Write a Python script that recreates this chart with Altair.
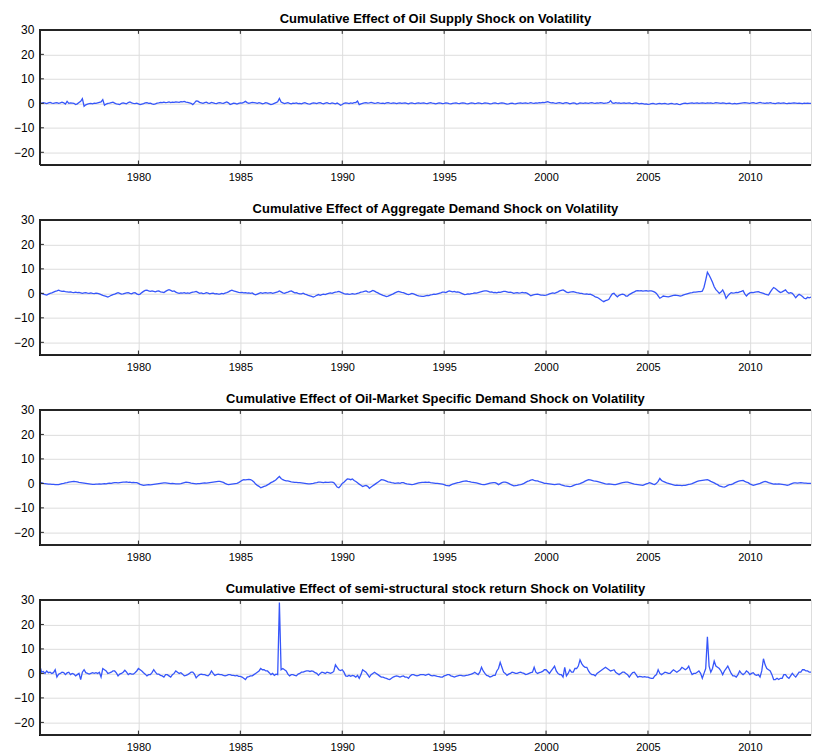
import altair as alt
import pandas as pd

# ---------------- data (monthly, first row = 1975 starting in March) ----------------
FIRST_YEAR = 1975
FIRST_MONTH = 3

SUPPLY = [
    [0.2, 0.0, 0.3, 0.1, -0.1, 0.2, 0.4, 0.1, 0.0, 0.2],
    [0.3, 0.0, 0.2, 0.5, 0.2, -0.3, 0.8, 0.0, 0.2, 0.1, 0.0, -0.5],
    [-0.2, 0.3, 0.8, 1.9, -1.2, -0.6, -0.3, -0.1, 0.0, -0.2, 0.1, 0.0],
    [0.2, 0.4, 0.6, 1.5, -0.8, -0.3, 0.0, 0.1, 0.3, 0.5, 0.1, -0.2],
    [-0.3, -0.5, 0.0, 0.2, 0.0, -0.2, 0.3, 0.6, 0.2, 0.0, -0.1, 0.1],
    [-0.2, -0.5, -0.3, -0.1, 0.2, 0.3, 0.0, 0.1, -0.2, -0.4, -0.2, 0.1],
    [0.2, 0.4, 0.3, 0.5, 0.3, 0.4, 0.6, 0.3, 0.5, 0.4, 0.6, 0.5],
    [0.4, 0.7, 0.6, 0.8, 0.5, 0.4, 0.2, 0.0, -0.5, 0.2, 1.0, 0.9],
    [0.4, 0.2, 0.0, 0.3, 0.5, 0.1, 0.0, 0.4, 0.2, 0.0, -0.1, 0.2],
    [0.3, 0.1, 0.0, 0.3, 0.6, 0.2, -0.5, -0.2, 0.1, 0.0, -0.3, 0.0],
    [0.2, 0.1, 0.4, 0.8, 0.3, 0.0, 0.2, 0.4, 0.3, 0.2, 0.0, 0.3],
    [0.1, -0.2, 0.0, 0.3, 0.1, -0.2, -0.5, -0.3, 0.0, 0.3, 0.6, 2.0],
    [0.5, 0.2, -0.1, 0.1, 0.3, 0.0, -0.2, 0.1, 0.0, 0.2, -0.1, 0.0],
    [-0.2, 0.1, 0.3, 0.0, -0.2, -0.3, 0.0, 0.2, 0.1, -0.1, 0.2, 0.3],
    [0.0, -0.2, 0.1, 0.3, 0.0, -0.1, 0.2, 0.0, -0.2, 0.1, -0.3, -0.8],
    [-0.5, 0.0, 0.2, 0.1, -0.1, 0.2, 0.0, 0.3, 0.3, 0.9, -0.5, -0.2],
    [0.0, 0.2, 0.3, 0.1, 0.2, 0.4, 0.2, 0.0, 0.1, 0.3, 0.1, 0.0],
    [0.1, -0.1, 0.2, 0.3, 0.1, 0.0, 0.2, 0.1, -0.1, 0.1, 0.2, 0.0],
    [0.1, 0.2, 0.0, -0.2, 0.1, 0.2, 0.0, -0.1, 0.1, 0.2, 0.0, 0.1],
    [0.2, 0.0, -0.1, 0.1, 0.3, 0.1, 0.0, -0.2, 0.0, 0.2, 0.1, -0.1],
    [0.0, 0.2, 0.1, -0.1, -0.2, 0.0, 0.1, 0.2, 0.0, -0.1, 0.1, 0.2],
    [0.1, -0.1, -0.2, 0.0, 0.2, 0.1, -0.1, 0.0, 0.2, 0.1, -0.1, 0.0],
    [0.2, 0.1, 0.0, -0.2, -0.1, 0.1, 0.2, 0.0, -0.1, 0.1, 0.2, 0.1],
    [-0.1, -0.3, -0.2, 0.0, 0.1, -0.1, -0.2, 0.0, 0.1, 0.2, 0.0, 0.1],
    [0.2, 0.0, 0.1, 0.3, 0.1, 0.0, 0.2, 0.1, 0.3, 0.2, 0.4, 0.3],
    [0.5, 0.7, 0.4, 0.2, 0.3, 0.1, 0.0, 0.2, 0.3, 0.1, -0.1, 0.2],
    [0.3, 0.1, -0.2, 0.0, 0.2, 0.1, -0.3, -0.1, 0.2, 0.1, 0.0, 0.2],
    [0.1, 0.0, 0.2, 0.3, 0.1, 0.0, 0.2, 0.1, 0.3, 0.2, 0.0, 0.1],
    [0.2, 0.4, 1.1, 0.2, 0.0, 0.3, 0.1, 0.2, 0.0, 0.1, 0.2, 0.0],
    [0.1, 0.2, 0.0, -0.1, 0.1, 0.2, 0.0, -0.2, 0.0, -0.1, -0.3, -0.2],
    [-0.4, -0.3, -0.1, 0.0, -0.2, -0.3, -0.1, 0.0, -0.2, -0.1, 0.0, -0.2],
    [-0.3, -0.1, 0.0, -0.2, -0.3, -0.1, -0.4, -0.5, -0.2, 0.0, 0.1, -0.1],
    [0.0, 0.1, 0.2, 0.0, 0.1, 0.2, 0.0, 0.1, 0.2, 0.1, 0.0, 0.2],
    [0.1, 0.2, 0.0, 0.1, 0.3, 0.2, 0.1, 0.0, 0.2, 0.1, -0.1, 0.0],
    [0.1, -0.1, -0.2, 0.0, -0.2, -0.1, 0.0, 0.1, 0.2, 0.3, 0.2, 0.1],
    [0.0, 0.2, 0.3, 0.1, 0.0, 0.2, 0.4, 0.2, 0.1, 0.0, 0.2, 0.1],
    [0.3, 0.1, 0.0, -0.1, 0.1, 0.2, 0.0, 0.1, 0.2, 0.0, -0.1, 0.1],
    [0.0, 0.1, 0.2, 0.1, 0.0, 0.1, 0.0, -0.1, 0.1, 0.0, 0.1, 0.0],
    [0.0],
]

AGGREGATE = [
    [0.0, 0.0, -0.3, -0.5, -0.7, -0.3, 0.0, 0.2, 0.5, 0.8],
    [1.0, 1.3, 1.0, 0.8, 0.9, 0.7, 0.6, 0.5, 0.6, 0.4, 0.3, 0.5],
    [0.3, 0.4, 0.2, 0.0, 0.2, 0.3, 0.1, 0.0, 0.2, 0.0, -0.1, 0.1],
    [0.0, -0.2, -0.5, -0.8, -1.0, -1.2, -1.5, -1.2, -0.8, -0.5, -0.3, 0.0],
    [0.3, 0.0, -0.3, -0.2, 0.0, 0.2, 0.3, 0.0, -0.2, 0.2, 0.3, -0.2],
    [-0.5, -0.3, 0.3, 0.8, 1.2, 1.3, 1.0, 0.8, 1.0, 0.8, 0.6, 0.9],
    [1.0, 0.6, 0.5, 0.3, 0.8, 1.2, 1.5, 1.2, 0.8, 1.0, 0.5, 0.2],
    [0.0, 0.2, 0.1, 0.3, 0.0, 0.2, 0.0, 0.3, 0.5, 0.6, 0.8, 0.4],
    [0.0, 0.2, -0.1, 0.0, 0.3, 0.1, -0.2, 0.0, 0.1, -0.2, -0.1, -0.3],
    [-0.3, 0.0, -0.2, 0.1, 0.3, 0.6, 1.0, 1.3, 1.0, 0.8, 0.6, 0.4],
    [0.3, 0.4, 0.2, 0.3, 0.1, 0.2, 0.0, 0.2, -0.3, -0.6, -0.3, 0.0],
    [0.3, 0.0, 0.2, 0.3, 0.1, 0.2, 0.3, 0.0, 0.2, 0.4, 0.6, 1.0],
    [0.6, 0.2, 0.0, 0.3, 0.5, 0.8, 1.0, 0.6, 0.2, 0.3, 0.0, -0.2],
    [-0.2, 0.1, -0.3, -0.5, -0.8, -1.0, -1.2, -1.5, -1.2, -0.8, -0.5, -0.8],
    [-0.5, -0.3, -0.5, -0.2, 0.0, 0.2, 0.0, 0.3, 0.5, 0.6, 0.8, 0.5],
    [0.2, -0.1, -0.3, -0.2, -0.4, -0.3, -0.1, -0.3, -0.2, 0.0, 0.2, 0.5],
    [0.6, 0.8, 1.0, 0.6, 0.5, 0.8, 1.2, 0.9, 0.5, 0.2, -0.2, -0.5],
    [-0.8, -1.0, -1.3, -1.1, -0.8, -0.5, -0.2, 0.2, 0.5, 0.8, 0.6, 0.4],
    [0.3, 0.0, -0.3, -0.5, -0.3, 0.0, -0.2, -0.5, -0.8, -1.0, -1.1, -1.2],
    [-1.2, -1.0, -0.8, -0.9, -0.6, -0.5, -0.3, -0.4, -0.2, 0.0, 0.2, 0.5],
    [0.5, 0.3, 0.7, 1.0, 0.8, 0.6, 0.8, 0.5, 0.6, 0.4, 0.1, -0.2],
    [-0.5, -0.4, -0.2, -0.3, -0.1, 0.0, 0.2, 0.1, 0.3, 0.5, 0.7, 0.9],
    [1.0, 1.0, 0.8, 0.5, 0.6, 0.3, 0.4, 0.2, 0.5, 0.4, 0.6, 0.8],
    [0.8, 0.6, 0.4, 0.5, 0.3, 0.0, 0.2, 0.3, 0.1, 0.2, 0.4, 0.2],
    [0.3, 0.0, -0.5, -1.0, -0.7, -0.5, -0.4, -0.3, -0.5, -0.7, -0.7, -0.8],
    [-0.7, -0.5, -0.2, 0.0, 0.2, 0.0, 0.3, 0.6, 1.0, 1.2, 1.4, 1.0],
    [0.5, 0.3, 0.5, 0.6, 0.7, 0.5, 0.3, 0.2, 0.0, 0.0, -0.2, -0.3],
    [-0.2, -0.4, -0.3, -0.6, -1.0, -1.4, -1.6, -2.0, -2.5, -3.0, -3.4, -3.0],
    [-2.8, -2.4, -1.2, -0.2, 0.0, -0.8, -1.4, -0.8, -0.5, -0.3, -0.5, -1.1],
    [-1.1, -0.5, -0.1, 0.3, 0.6, 1.0, 1.1, 1.0, 1.1, 0.9, 1.0, 1.1],
    [0.9, 1.0, 1.0, 0.8, 0.5, 0.0, -1.0, -2.0, -1.6, -1.1, -1.2, -1.3],
    [-1.4, -1.2, -1.0, -0.8, -0.7, -0.8, -0.9, -1.1, -0.9, -0.6, -0.4, -0.2],
    [0.0, 0.2, 0.3, 0.5, 0.5, 0.6, 0.7, 0.7, 0.9, 2.5, 5.4, 8.6],
    [7.5, 6.1, 4.5, 2.7, 1.5, 0.8, 0.0, 0.5, 1.4, 0.0, -2.0, -1.0],
    [-0.3, 0.3, 0.1, 0.2, 0.4, 0.3, 0.6, 0.8, 1.1, -0.2, -1.1, -0.3],
    [0.2, 0.4, 0.3, 0.5, 0.6, 0.7, 0.4, 0.2, 0.0, -0.3, -0.5, -0.7],
    [0.5, 1.5, 2.4, 2.0, 1.4, 0.8, 0.3, 0.6, 1.0, 1.4, 0.5, 0.0],
    [0.3, 0.0, -0.8, -1.8, -1.0, -0.4, -0.8, -1.3, -2.0, -2.2, -1.6, -1.8],
    [-1.5],
]

OIL_MARKET = [
    [0.3, 0.2, 0.0, -0.1, -0.2, -0.3, -0.3, -0.4, -0.4, -0.5],
    [-0.5, -0.5, -0.3, -0.1, 0.0, 0.2, 0.3, 0.5, 0.6, 0.7, 0.8, 0.7],
    [0.6, 0.4, 0.3, 0.2, 0.1, 0.0, -0.1, -0.2, -0.3, -0.4, -0.4, -0.3],
    [-0.3, -0.2, -0.3, -0.2, -0.1, -0.2, 0.0, 0.1, 0.0, 0.2, 0.3, 0.3],
    [0.2, 0.3, 0.4, 0.5, 0.5, 0.6, 0.4, 0.5, 0.3, 0.4, 0.3, 0.3],
    [0.0, -0.4, -0.6, -0.8, -0.7, -0.6, -0.5, -0.6, -0.5, -0.4, -0.3, -0.2],
    [-0.1, 0.0, 0.1, 0.2, 0.2, 0.1, 0.0, -0.1, 0.0, -0.1, -0.2, -0.2],
    [-0.2, -0.1, 0.1, 0.3, 0.5, 0.4, 0.3, 0.1, 0.0, -0.1, -0.2, -0.1],
    [-0.1, 0.0, 0.1, 0.2, 0.1, 0.2, 0.3, 0.4, 0.5, 0.6, 0.7, 0.8],
    [0.8, 0.6, 0.4, 0.0, -0.3, -0.5, -0.4, -0.3, -0.2, -0.1, 0.0, 0.3],
    [0.8, 1.2, 1.5, 1.4, 1.5, 1.6, 1.5, 1.2, 0.6, -0.3, -0.8, -1.2],
    [-1.8, -1.5, -1.2, -1.0, -0.6, -0.2, 0.3, 0.6, 1.0, 1.5, 2.2, 2.8],
    [2.0, 1.5, 1.2, 1.0, 1.0, 0.8, 0.6, 0.5, 0.4, 0.4, 0.3, 0.3],
    [0.2, 0.1, 0.0, -0.1, -0.2, -0.2, -0.1, 0.0, 0.2, 0.3, 0.5, 0.5],
    [0.4, 0.3, 0.5, 0.4, 0.4, 0.5, 0.5, 0.3, -0.5, -1.5, -1.8, -1.0],
    [0.0, 0.5, 1.2, 1.8, 1.7, 1.5, 1.8, 1.2, 0.8, 0.3, -0.3, -0.8],
    [-1.3, -1.0, -0.8, -1.2, -2.0, -1.5, -1.0, -0.5, 0.0, 0.5, 1.0, 1.5],
    [1.4, 1.2, 0.9, 0.6, 0.5, 0.3, 0.2, 0.0, 0.1, 0.2, 0.0, 0.3],
    [0.3, 0.0, -0.2, -0.3, -0.4, -0.5, -0.4, -0.2, 0.0, 0.2, 0.3, 0.4],
    [0.4, 0.5, 0.4, 0.5, 0.3, 0.2, 0.1, 0.0, 0.0, -0.1, -0.2, -0.3],
    [-0.5, -0.8, -0.9, -1.0, -0.6, -0.3, -0.1, 0.1, 0.3, 0.4, 0.6, 0.8],
    [0.9, 1.0, 0.8, 0.7, 0.5, 0.4, 0.3, 0.2, 0.0, -0.2, -0.4, -0.5],
    [-0.5, -0.3, -0.1, 0.1, 0.2, 0.3, 0.3, 0.0, -0.5, -0.1, 0.3, 0.5],
    [0.5, 0.3, 0.0, -0.4, -0.7, -1.0, -0.9, -0.8, -0.6, -0.5, -0.3, 0.0],
    [0.4, 0.8, 1.0, 1.3, 1.5, 1.2, 1.0, 1.0, 0.7, 0.5, 0.3, 0.0],
    [0.0, -0.1, -0.2, -0.3, -0.4, -0.5, -0.4, -0.3, -0.3, -0.6, -0.8, -1.0],
    [-1.1, -1.2, -1.3, -1.2, -0.9, -0.6, -0.4, -0.3, -0.1, 0.2, 0.5, 0.9],
    [1.2, 1.5, 1.4, 1.2, 1.0, 0.9, 0.8, 0.6, 0.4, 0.2, 0.0, -0.2],
    [-0.3, -0.2, -0.3, -0.4, -0.5, -0.5, -0.3, -0.1, 0.1, 0.3, 0.4, 0.5],
    [0.5, 0.3, 0.1, -0.1, -0.3, -0.4, -0.5, -0.6, -0.7, -0.8, -0.5, -0.2],
    [0.0, 0.3, 0.0, -0.3, -0.5, 0.0, 0.8, 2.0, 1.2, 0.8, 0.5, 0.2],
    [0.0, -0.2, -0.4, -0.6, -0.8, -0.7, -0.8, -0.8, -0.9, -0.8, -0.8, -0.6],
    [-0.4, -0.3, -0.1, 0.2, 0.5, 0.8, 1.0, 1.1, 1.2, 1.3, 1.4, 1.5],
    [1.2, 0.8, 0.5, 0.2, -0.2, -0.5, -1.0, -1.2, -1.4, -1.5, -1.2, -0.8],
    [-0.5, -0.5, -0.2, 0.2, 0.5, 0.8, 1.0, 1.1, 1.2, 0.8, 0.5, 0.3],
    [-0.2, -0.5, -0.8, -0.6, -0.4, -0.2, 0.0, 0.3, 0.6, 0.8, 0.6, 0.3],
    [0.1, -0.1, -0.3, -0.2, -0.3, -0.2, -0.3, -0.4, -0.5, -0.6, -0.8, -0.6],
    [-0.3, 0.0, 0.2, 0.2, 0.1, 0.2, 0.3, 0.2, 0.1, 0.1, 0.0, 0.0],
    [0.0],
]

STOCK = [
    [3.0, 0.5, 0.8, 0.0, 1.0, 0.3, 0.5, 0.0, 0.3, 1.5],
    [-1.5, -0.3, 0.0, 0.5, 0.3, -0.5, 0.2, 0.5, -0.5, 0.0, -0.3, -1.0],
    [-0.5, 0.0, -2.5, 0.5, 1.5, 0.3, 0.0, -0.3, 0.0, 0.3, 0.0, 0.3],
    [0.0, 0.5, -1.5, 2.0, 1.5, 1.0, 0.0, 0.2, 0.5, 1.0, 1.0, 0.2],
    [-1.0, -0.3, 0.0, 0.5, 1.3, 0.5, -0.5, 0.0, -0.3, -0.3, 0.3, 1.0],
    [2.0, 1.5, 1.0, 0.3, -0.3, -1.0, -0.5, -0.5, 0.3, 1.5, 0.5, -0.3],
    [-0.3, -0.8, -1.0, -1.5, -0.5, -0.5, -1.0, -1.5, -0.5, 0.0, 1.0, 0.5],
    [0.0, 0.3, -0.3, -1.0, -0.8, -0.5, 0.0, 0.5, 0.5, -0.3, -1.8, -1.0],
    [-0.5, -0.3, -0.5, -0.5, -0.8, -1.0, -0.3, 1.0, 0.0, -0.8, -0.5, -0.3],
    [-0.5, -0.5, -0.8, -1.0, -0.8, -0.5, -0.5, -0.8, -0.8, -1.0, -0.8, -1.2],
    [-1.2, -1.5, -2.0, -2.5, -1.5, -1.3, -1.0, -1.0, -0.5, 0.0, 0.5, 1.0],
    [2.0, 1.5, 1.5, 1.0, 1.0, 0.3, -0.5, 0.0, -0.8, -0.3, -0.5, 29.0],
    [1.5, 2.0, 1.5, 1.0, -0.3, -1.0, -0.5, -0.5, -0.8, -1.0, -0.3, 0.0],
    [0.5, 0.5, 0.8, 1.0, 1.0, 0.8, 1.0, 0.8, 0.3, 0.0, -0.8, 0.0],
    [0.5, 0.3, 0.0, 0.5, 0.3, 0.0, 0.3, 0.8, 3.5, 2.5, 1.5, 1.2],
    [1.5, 0.5, -1.0, -1.2, -0.8, -1.2, -0.8, -1.0, -1.5, -0.8, -2.0, -0.5],
    [1.5, 1.0, 0.5, -0.5, -1.5, -0.5, 0.0, 0.5, 0.0, -0.5, -1.0, -1.5],
    [-1.5, -1.8, -2.0, -2.3, -2.5, -2.0, -1.5, -1.2, -1.0, -1.2, -1.5, -1.2],
    [-1.0, -1.5, -1.5, -2.0, -1.0, -0.5, -0.5, -0.8, -1.0, -0.8, -0.5, -0.5],
    [-0.5, -0.8, -0.5, -0.3, -0.8, -1.0, -0.8, -1.0, -1.2, -1.3, -1.5, -1.5],
    [-1.0, -0.8, -0.5, -0.5, -1.0, -1.2, -1.5, -1.2, -1.0, -0.8, -0.8, -1.0],
    [-1.0, -0.8, -0.7, -0.5, -0.3, 0.0, 0.5, 0.0, -0.5, 0.5, 2.5, 1.0],
    [0.0, -0.8, -1.0, -1.5, -1.2, -0.8, -0.8, 1.0, 2.0, 4.5, 2.5, 0.5],
    [0.0, -0.8, -0.3, 0.0, 0.5, 0.3, 0.0, 0.0, 0.3, 0.5, 0.2, 0.0],
    [-0.5, -0.3, 0.0, 0.3, 0.5, 2.5, 0.5, 0.0, 0.3, 0.5, 0.8, 1.5],
    [1.5, 0.8, 0.0, 1.0, 2.0, 3.0, 1.0, 0.0, -0.5, -0.5, -1.5, 2.5],
    [-1.0, 0.0, 1.5, 0.5, 0.5, 2.0, 2.0, 3.0, 5.5, 4.0, 3.0, 2.5],
    [2.5, 1.0, 0.0, -0.5, -0.5, -1.0, 0.0, 0.5, 1.0, 1.5, 2.0, 2.5],
    [2.0, 1.5, 1.0, 1.2, 1.5, 0.5, 0.0, -0.5, 0.0, 0.5, 0.5, 0.0],
    [-0.5, -1.5, -0.5, 0.3, 0.5, -0.5, -1.5, -1.2, -1.3, -1.5, -1.3, -1.5],
    [-1.5, -1.8, -2.0, -2.0, -1.0, -0.5, 1.5, 0.0, -0.5, 0.0, 0.5, 0.3],
    [0.0, 0.0, 0.8, 1.5, 1.0, 0.5, 1.0, 1.5, 2.5, 2.0, 1.5, 2.0],
    [3.0, 1.0, -0.5, 0.0, 0.0, 0.5, 1.0, 0.0, -2.0, 0.0, 2.0, 15.0],
    [3.0, 0.5, 2.0, 5.0, 3.0, 2.5, 2.0, 1.0, -0.5, 1.0, 2.0, 3.0],
    [1.5, 0.0, -1.0, -1.0, -1.5, -0.5, 1.0, 0.0, -0.5, 0.0, 1.0, 0.5],
    [-0.5, 0.0, 0.3, -0.5, -0.8, -0.5, -1.5, 1.0, 6.0, 3.5, 2.0, 1.5],
    [1.0, -0.5, -2.5, -2.5, -2.0, -2.5, -2.0, -2.0, -0.5, -0.5, -1.5, -2.0],
    [-1.0, 0.0, -0.8, -1.5, -0.5, 0.5, 0.5, 1.5, 1.5, 1.0, 1.0, 0.5],
    [0.5],
]

TITLES = [
    "Cumulative Effect of Oil Supply Shock on Volatility",
    "Cumulative Effect of Aggregate Demand Shock on Volatility",
    "Cumulative Effect of Oil-Market Specific Demand Shock on Volatility",
    "Cumulative Effect of semi-structural stock return Shock on Volatility",
]
SERIES = [SUPPLY, AGGREGATE, OIL_MARKET, STOCK]

X_TICKS = [1980, 1985, 1990, 1995, 2000, 2005, 2010]
Y_TICKS = [-20, -10, 0, 10, 20, 30]
X_DOMAIN = [1975 + 2 / 12, 2013.0]
Y_DOMAIN = [-25, 30]

# ---------------- styling ----------------
W, H = 773, 135
BLUE = "#3656fa"
FONT = "Liberation Sans"
DARK = "#262626"


def monthly_frame(rows):
    t, v = [], []
    for k, row in enumerate(rows):
        year = FIRST_YEAR + k
        m0 = FIRST_MONTH if k == 0 else 1
        for j, val in enumerate(row):
            t.append(year + (m0 - 1 + j) / 12)
            v.append(val)
    return pd.DataFrame({"t": t, "v": v})


xscale = alt.Scale(domain=X_DOMAIN, nice=False, zero=False)
yscale = alt.Scale(domain=Y_DOMAIN, nice=False, zero=False)
xaxis = alt.Axis(values=X_TICKS, format="d", title=None, ticks=False, domain=False,
                 grid=True, labelPadding=7, labelFontSize=11)
yaxis = alt.Axis(values=Y_TICKS, title=None, ticks=False, domain=False, grid=True,
                 labelPadding=6, labelFontSize=12, minExtent=30, maxExtent=30)


def panel(title, rows):
    df = monthly_frame(rows)
    X = alt.X("t:Q", scale=xscale, axis=xaxis)
    Y = alt.Y("v:Q", scale=yscale, axis=yaxis)
    line = alt.Chart(df).mark_line(color=BLUE, strokeWidth=1.3, clip=True).encode(x=X, y=Y)
    # frame (top, bottom, left; the right side lies beyond the cropped edge)
    frame_top = alt.Chart(df).mark_rule(color=DARK, strokeWidth=1).encode(
        x=alt.value(0), x2=alt.value(W), y=alt.value(0))
    frame_bot = alt.Chart(df).mark_rule(color=DARK, strokeWidth=1).encode(
        x=alt.value(0), x2=alt.value(W), y=alt.value(H))
    frame_left = alt.Chart(df).mark_rule(color=DARK, strokeWidth=1).encode(
        x=alt.value(0), y=alt.value(0), y2=alt.value(H))
    xt = pd.DataFrame({"t": X_TICKS})
    top_ticks = alt.Chart(xt).mark_rule(color=DARK, strokeWidth=1).encode(
        x=X, y=alt.value(0), y2=alt.value(4))
    bot_ticks = alt.Chart(xt).mark_rule(color=DARK, strokeWidth=1).encode(
        x=X, y=alt.value(H), y2=alt.value(H - 4))
    yt = pd.DataFrame({"v": Y_TICKS})
    left_ticks = alt.Chart(yt).mark_rule(color=DARK, strokeWidth=1).encode(
        y=Y, x=alt.value(0), x2=alt.value(4))
    return alt.layer(line, frame_top, frame_bot, frame_left,
                     top_ticks, bot_ticks, left_ticks).properties(
        width=W, height=H,
        title=alt.TitleParams(title, anchor="middle", frame="group", fontSize=13,
                              font=FONT, fontWeight="bold", color="#000000",
                              offset=-15, baseline="bottom", dx=10),
    )


chart = alt.vconcat(*[panel(t, s) for t, s in zip(TITLES, SERIES)], spacing=18.5).properties(
    padding={"left": 1, "top": 3, "right": 0, "bottom": 0}
).configure_view(
    stroke=None
).configure_axis(
    gridColor="#e4e4e4", gridWidth=1, labelFont=FONT, labelColor=DARK,
).configure(background="white")

chart.save("out.html", embed_options={"renderer": "svg", "actions": False})
